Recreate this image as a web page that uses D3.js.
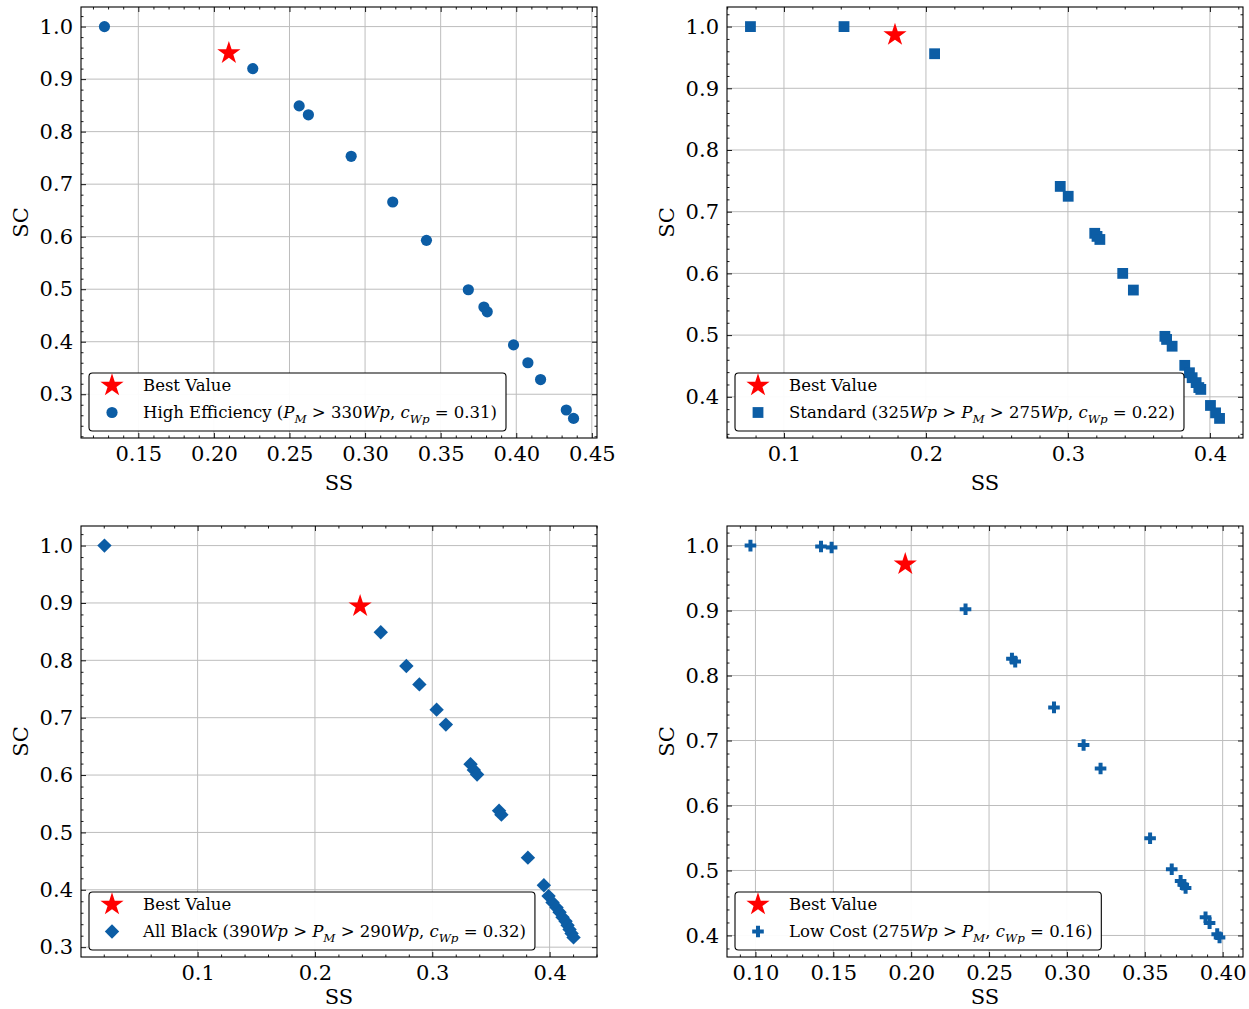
<!DOCTYPE html>
<html>
<head>
<meta charset="utf-8">
<script src="https://cdn.jsdelivr.net/npm/d3@7"></script>
<style>
  html, body { margin: 0; padding: 0; background: #fff; }
  svg { display: block; }
  text { font-family: "DejaVu Serif", serif; fill: #000; }
</style>
</head>
<body>
<svg id="chart" width="1249" height="1009"></svg>
<script>
// ---------------- data ----------------
const heSS = [0.1276, 0.2257, 0.2564, 0.2625, 0.2908, 0.3183, 0.3406, 0.3683, 0.3786, 0.3808, 0.3982, 0.4077, 0.4161, 0.4331, 0.4379];
const heSC = [1.000, 0.920, 0.849, 0.832, 0.753, 0.666, 0.593, 0.499, 0.466, 0.457, 0.394, 0.360, 0.328, 0.270, 0.254];

const stSS = [0.0764, 0.1423, 0.2061, 0.2946, 0.3002, 0.3189, 0.3205, 0.3225, 0.3386, 0.3461, 0.3683, 0.3695, 0.3734, 0.3823, 0.3856, 0.3875, 0.3903, 0.3922, 0.3936, 0.4004, 0.4040, 0.4068];
const stSC = [1.000, 1.000, 0.956, 0.741, 0.725, 0.665, 0.660, 0.655, 0.600, 0.573, 0.498, 0.493, 0.482, 0.451, 0.439, 0.431, 0.423, 0.415, 0.412, 0.386, 0.374, 0.365];

const abSS = [0.0206, 0.2561, 0.2779, 0.2890, 0.3037, 0.3116, 0.3326, 0.3354, 0.3382, 0.3569, 0.3589, 0.3815, 0.3951, 0.3991, 0.4025, 0.4059, 0.4085, 0.4110, 0.4136, 0.4153, 0.4170, 0.4187, 0.4204];
const abSC = [1.000, 0.849, 0.790, 0.758, 0.714, 0.688, 0.619, 0.609, 0.601, 0.538, 0.531, 0.456, 0.408, 0.389, 0.378, 0.369, 0.361, 0.352, 0.345, 0.338, 0.331, 0.324, 0.317];

const lcSS = [0.0968, 0.1421, 0.1489, 0.2349, 0.2647, 0.2668, 0.2917, 0.3107, 0.3216, 0.3534, 0.3673, 0.3730, 0.3747, 0.3762, 0.3890, 0.3916, 0.3965, 0.3980];
const lcSC = [1.000, 0.9985, 0.997, 0.902, 0.826, 0.8215, 0.751, 0.693, 0.657, 0.5495, 0.502, 0.484, 0.478, 0.473, 0.428, 0.419, 0.402, 0.397];

const bestSS = [0.2099, 0.1782, 0.2385, 0.1962];
const bestSC = [0.9495, 0.9864, 0.8944, 0.9713];

const bestLabel = "Best Value";
const seriesLabels = [
  "High Efficiency ($P_M > 330Wp, c_{Wp} = 0.31$)",
  "Standard ($325Wp > P_M > 275Wp, c_{Wp} = 0.22$)",
  "All Black ($390Wp > P_M > 290Wp, c_{Wp} = 0.32$)",
  "Low Cost ($275Wp > P_M, c_{Wp} = 0.16$)"
];
const markerKinds = ["circle", "square", "diamond", "plus"];

const xTicks1 = [0.15, 0.20, 0.25, 0.30, 0.35, 0.40, 0.45];
const xTicks2 = [0.1, 0.2, 0.3, 0.4];
const xTicks3 = [0.1, 0.2, 0.3, 0.4];
const xTicks4 = [0.10, 0.15, 0.20, 0.25, 0.30, 0.35, 0.40];
const yTicks1 = [0.3, 0.4, 0.5, 0.6, 0.7, 0.8, 0.9, 1.0];
const yTicks2 = [0.4, 0.5, 0.6, 0.7, 0.8, 0.9, 1.0];
const yTicks3 = [0.3, 0.4, 0.5, 0.6, 0.7, 0.8, 0.9, 1.0];
const yTicks4 = [0.4, 0.5, 0.6, 0.7, 0.8, 0.9, 1.0];
const xFormats = [".2f", ".1f", ".1f", ".2f"];
const xMinorSteps = [0.01, 0.02, 0.02, 0.01];
const yMinorStep = 0.02;
const xLabel = "SS";
const yLabel = "SC";

// ---------------- layout / style ----------------
const layout = [
  {l: 81,  r: 597,  t: 7,   b: 438, xl: 51.5},
  {l: 727, r: 1243, t: 7,   b: 438, xl: 51.5},
  {l: 81,  r: 597,  t: 526, b: 957, xl: 47},
  {l: 727, r: 1243, t: 526, b: 957, xl: 47}
];
const BLUE = "#0C5DA5";
const RED = "#ff0000";
const TICK_FS = 21;
const LABEL_FS = 21;
const LEG_FS = 16.5;

function markerPath(kind) {
  if (kind === "circle") { const r = 5.6; return `M${r},0A${r},${r} 0 1,1 ${-r},0A${r},${r} 0 1,1 ${r},0Z`; }
  if (kind === "square") { const s = 5.4; return `M${-s},${-s}H${s}V${s}H${-s}Z`; }
  if (kind === "diamond") { const d = 7.2; return `M0,${-d}L${d},0L0,${d}L${-d},0Z`; }
  if (kind === "plus") {
    const a = 5.8, w = 2.0;
    return `M${-w},${-a}H${w}V${-w}H${a}V${w}H${w}V${a}H${-w}V${w}H${-a}V${-w}H${-w}Z`;
  }
  if (kind === "star") {
    const R = 12.2, r = R * 0.382;
    let p = [];
    for (let i = 0; i < 10; i++) {
      const rad = i % 2 === 0 ? R : r;
      const ang = -Math.PI / 2 + i * Math.PI / 5;
      p.push([rad * Math.cos(ang), rad * Math.sin(ang)]);
    }
    return "M" + p.map(q => q[0].toFixed(2) + "," + q[1].toFixed(2)).join("L") + "Z";
  }
}

// parse "$...$" mini math into segments
function parseLabel(s) {
  const segs = [];
  const parts = s.split("$");
  parts.forEach((part, idx) => {
    if (idx % 2 === 0) { if (part) segs.push({t: part, it: false, sub: false}); return; }
    let i = 0;
    while (i < part.length) {
      const c = part[i];
      if (c === "_") {
        let sub;
        if (part[i + 1] === "{") { const j = part.indexOf("}", i); sub = part.slice(i + 2, j); i = j + 1; }
        else { sub = part[i + 1]; i += 2; }
        segs.push({t: sub, it: true, sub: true});
        continue;
      }
      const it = /[A-Za-z]/.test(c);
      const last = segs[segs.length - 1];
      if (last && !last.sub && last.it === it && last.math) last.t += c;
      else segs.push({t: c, it: it, sub: false, math: true});
      i++;
    }
  });
  return segs;
}

function writeLabel(textSel, s, fs) {
  const segs = parseLabel(s);
  let shifted = false;
  const shift = fs * 0.28;
  segs.forEach(sg => {
    const ts = textSel.append("tspan").text(sg.t);
    if (sg.it) ts.attr("font-style", "italic");
    if (sg.sub) {
      ts.attr("font-size", fs * 0.72);
      if (!shifted) { ts.attr("dy", shift); shifted = true; }
    } else if (shifted) {
      ts.attr("dy", -shift); shifted = false;
    }
  });
}

const svg = d3.select("#chart");

const seriesSS = [heSS, stSS, abSS, lcSS];
const seriesSC = [heSC, stSC, abSC, lcSC];
const xTickSets = [xTicks1, xTicks2, xTicks3, xTicks4];
const yTickSets = [yTicks1, yTicks2, yTicks3, yTicks4];

function padDomain(vals) {
  const [a, b] = d3.extent(vals);
  const m = (b - a) * 0.05;
  return [a - m, b + m];
}
function minorValues(domain, step, majors) {
  const out = [];
  const start = Math.ceil(domain[0] / step - 1e-9);
  const end = Math.floor(domain[1] / step + 1e-9);
  for (let k = start; k <= end; k++) {
    const v = +(k * step).toFixed(6);
    if (!majors.some(m => Math.abs(m - v) < 1e-6)) out.push(v);
  }
  return out;
}

for (let p = 0; p < 4; p++) {
  const L = layout[p];
  const w = L.r - L.l, h = L.b - L.t;
  const ss = seriesSS[p], sc = seriesSC[p];
  const xDom = padDomain(ss.concat([bestSS[p]]));
  const yDom = padDomain(sc.concat([bestSC[p]]));
  const x = d3.scaleLinear().domain(xDom).range([0, w]);
  const y = d3.scaleLinear().domain(yDom).range([h, 0]);
  const g = svg.append("g").attr("transform", `translate(${L.l},${L.t})`);

  // grid
  const grid = g.append("g");
  grid.selectAll("line.gx").data(xTickSets[p]).join("line")
    .attr("x1", d => x(d)).attr("x2", d => x(d)).attr("y1", 0).attr("y2", h)
    .attr("stroke", "#bdbdbd").attr("stroke-width", 1);
  grid.selectAll("line.gy").data(yTickSets[p]).join("line")
    .attr("y1", d => y(d)).attr("y2", d => y(d)).attr("x1", 0).attr("x2", w)
    .attr("stroke", "#bdbdbd").attr("stroke-width", 1);

  // data
  const mk = markerPath(markerKinds[p]);
  g.append("g").selectAll("path").data(d3.range(ss.length)).join("path")
    .attr("d", mk).attr("fill", BLUE)
    .attr("transform", i => `translate(${x(ss[i])},${y(sc[i])})`);
  g.append("path").attr("d", markerPath("star")).attr("fill", RED)
    .attr("transform", `translate(${x(bestSS[p])},${y(bestSC[p])})`);

  // axes (ticks inward on all sides)
  const fmt = d3.format(xFormats[p]);
  const xMin = minorValues(xDom, xMinorSteps[p], xTickSets[p]);
  const yMin = minorValues(yDom, yMinorStep, yTickSets[p]);
  const styleAxis = sel => {
    sel.select(".domain").remove();
    sel.selectAll(".tick line").attr("stroke", "#000").attr("stroke-width", 0.9);
    sel.selectAll("text").attr("font-family", "DejaVu Serif").attr("font-size", TICK_FS).attr("fill", "#000");
  };
  g.append("g").attr("transform", `translate(0,${h})`)
    .call(d3.axisBottom(x).tickValues(xTickSets[p]).tickFormat(fmt).tickSize(-5).tickPadding(8.5)).call(styleAxis);
  g.append("g").attr("transform", `translate(0,${h})`)
    .call(d3.axisBottom(x).tickValues(xMin).tickFormat("").tickSize(-2.5)).call(styleAxis);
  g.append("g")
    .call(d3.axisTop(x).tickValues(xTickSets[p]).tickFormat("").tickSize(-5)).call(styleAxis);
  g.append("g")
    .call(d3.axisTop(x).tickValues(xMin).tickFormat("").tickSize(-2.5)).call(styleAxis);
  g.append("g")
    .call(d3.axisLeft(y).tickValues(yTickSets[p]).tickFormat(d3.format(".1f")).tickSize(-5).tickPadding(8)).call(styleAxis);
  g.append("g")
    .call(d3.axisLeft(y).tickValues(yMin).tickFormat("").tickSize(-2.5)).call(styleAxis);
  g.append("g").attr("transform", `translate(${w},0)`)
    .call(d3.axisRight(y).tickValues(yTickSets[p]).tickFormat("").tickSize(-5)).call(styleAxis);
  g.append("g").attr("transform", `translate(${w},0)`)
    .call(d3.axisRight(y).tickValues(yMin).tickFormat("").tickSize(-2.5)).call(styleAxis);

  // frame
  g.append("rect").attr("x", 0).attr("y", 0).attr("width", w).attr("height", h)
    .attr("fill", "none").attr("stroke", "#000").attr("stroke-width", 1.1);

  // axis labels
  g.append("text").attr("x", w / 2).attr("y", h + L.xl).attr("text-anchor", "middle")
    .attr("font-size", LABEL_FS).text(xLabel);
  g.append("text").attr("transform", `translate(${-60},${h / 2}) rotate(-90)`)
    .attr("text-anchor", "middle").attr("dy", "0.35em")
    .attr("font-size", LABEL_FS).text(yLabel);

  // legend
  const lg = g.append("g");
  const boxL = 8, boxB = h - 7, boxH = 58, boxT = boxB - boxH;
  const box = lg.append("rect").attr("x", boxL).attr("y", boxT).attr("height", boxH)
    .attr("rx", 3.5).attr("ry", 3.5).attr("fill", "#fff").attr("fill-opacity", 0.95)
    .attr("stroke", "#000").attr("stroke-width", 1.1);
  const row1 = boxT + 12.5, row2 = boxT + 39.5;
  lg.append("path").attr("d", markerPath("star")).attr("fill", RED)
    .attr("transform", `translate(${boxL + 23},${row1})`);
  lg.append("path").attr("d", mk).attr("fill", BLUE)
    .attr("transform", `translate(${boxL + 23},${row2})`);
  const t1 = lg.append("text").attr("x", boxL + 54).attr("y", row1 + LEG_FS * 0.36)
    .attr("font-size", LEG_FS).text(bestLabel);
  const t2 = lg.append("text").attr("x", boxL + 54).attr("y", row2 + LEG_FS * 0.36)
    .attr("font-size", LEG_FS);
  writeLabel(t2, seriesLabels[p], LEG_FS);
  const tw = Math.max(t1.node().getComputedTextLength(), t2.node().getComputedTextLength());
  box.attr("width", 54 + tw + 9);
}
</script>
</body>
</html>
